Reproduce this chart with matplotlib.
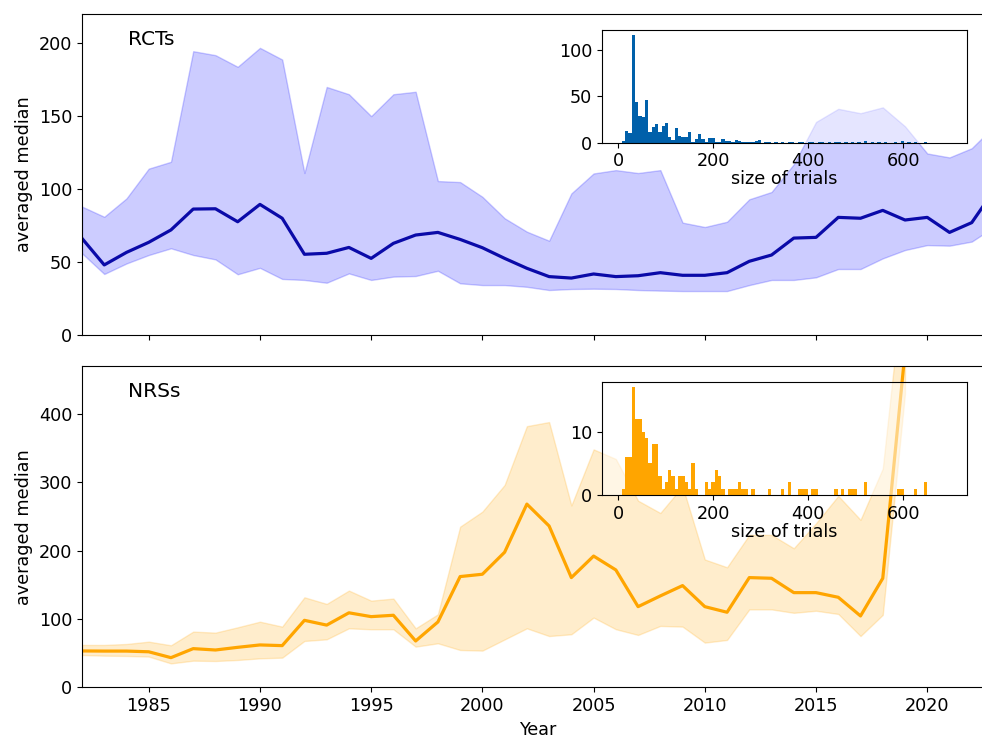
import matplotlib
matplotlib.use("Agg")
import matplotlib.pyplot as plt
import numpy as np

# yearly averaged medians with lower / upper band
rct_years = list(range(1982, 2024))
rct_median = [66.2, 48, 56.6, 63.5, 72, 86.3, 86.5, 77.6, 89.5, 80,
              55.3, 56, 60, 52.5, 62.8, 68.5, 70.3, 65.5, 59.8, 52.5,
              45.7, 40, 39, 41.8, 40, 40.6, 42.7, 40.9, 40.9, 42.7,
              50.5, 54.8, 66.4, 66.9, 80.6, 80, 85.4, 78.8, 80.6, 70.3,
              77, 99]
rct_upper = [88, 81, 93.6, 114, 118.7, 194.5, 191.8, 183.8, 196.8, 188.8,
             111, 170, 165, 150, 165, 166.7, 105.5, 104.8, 94.7, 80,
             70.8, 64.6, 97, 110.7, 113, 111, 113, 77, 74, 77.6,
             93, 98, 117, 146, 155, 152, 156, 143, 124.4, 121.7,
             128, 143]
rct_lower = [56, 41.8, 49, 54.8, 59.4, 54.8, 51.8, 41.6, 46, 38.4,
             37.7, 35.8, 42.2, 37.7, 40, 40.4, 44, 35.4, 34.2, 34.2,
             33, 30.8, 31.5, 31.7, 31.5, 30.8, 30.4, 30.1, 30.1, 30.1,
             34.2, 37.7, 37.7, 39.5, 45.2, 45.2, 52.5, 58.2, 61.6, 61.2,
             64, 74]

nrs_years = list(range(1982, 2020))
nrs_median = [53.2, 53, 53, 52, 43.4, 56.6, 54.6, 58.5, 62, 61,
              98, 91, 109, 103.4, 105.4, 67.8, 95.6, 162, 165.4, 197.6,
              268, 236, 160.5, 192, 171.7, 118, 133.7, 148.8, 118, 109.8,
              160.5, 159.5, 138.5, 138.5, 131.7, 104.4, 159.5, 490]
nrs_upper = [62, 62, 63.4, 66.8, 61.5, 81.5, 80, 87.8, 96, 88.8,
             131.7, 122, 141.5, 126.8, 129.8, 86.3, 106.8, 235, 257, 296,
             382, 388, 266, 348, 334, 273, 255, 294, 187, 175.6,
             223, 223, 203.4, 240, 280, 245, 320, 620]
nrs_lower = [47.3, 46.3, 45.9, 45, 35, 39, 38.5, 40, 42.4, 43.4,
             67.8, 70.2, 86.3, 84.9, 84.9, 59.5, 64.4, 54.6, 53.7, 70,
             86.3, 75, 77.6, 102, 85, 76.6, 89.8, 88.8, 65.4, 69.3,
             114, 114, 109, 112, 107.3, 75, 106, 430]

# histogram of trial sizes: 100 bins of width 7 from 0 to 700
bin_width = 7
rct_counts = [0, 2, 13, 11, 116, 44, 29, 28, 46, 12,
              17, 20, 12, 18, 21, 6, 3, 16, 7, 6,
              6, 12, 1, 4, 9, 4, 1, 5, 5, 1,
              1, 4, 2, 2, 1, 3, 2, 1, 1, 1,
              1, 2, 3, 0, 1, 1, 0, 1, 0, 1,
              0, 1, 1, 0, 1, 1, 0, 1, 1, 0,
              1, 1, 0, 1, 0, 1, 1, 0, 1, 0,
              1, 0, 1, 0, 2, 0, 1, 0, 1, 0,
              1, 0, 0, 1, 0, 2, 0, 1, 0, 1,
              0, 0, 1, 0, 0, 0, 0, 0, 0, 0]
nrs_counts = [0, 1, 6, 6, 17, 12, 12, 10, 9, 5,
              8, 8, 3, 1, 2, 4, 3, 1, 3, 3,
              2, 1, 5, 1, 0, 0, 2, 1, 2, 4,
              3, 1, 0, 1, 1, 1, 2, 1, 1, 0,
              1, 0, 0, 0, 0, 1, 0, 0, 0, 1,
              0, 2, 0, 0, 1, 1, 1, 0, 1, 1,
              0, 0, 0, 0, 0, 1, 0, 1, 0, 1,
              1, 1, 0, 0, 2, 0, 0, 0, 0, 0,
              0, 0, 0, 0, 1, 1, 0, 0, 0, 1,
              0, 0, 2, 0, 0, 0, 0, 0, 0, 0]

plt.rcParams['font.size'] = 12.7

fig = plt.figure(figsize=(9.82, 7.37), dpi=100)
ax1 = fig.add_axes([0.0835, 0.5455, 0.9287, 0.4355])
ax2 = fig.add_axes([0.0835, 0.0674, 0.9287, 0.436])

panels = [
    (ax1, rct_years, rct_median, rct_lower, rct_upper, '#0a0aa8', 'blue', 'RCTs', 220),
    (ax2, nrs_years, nrs_median, nrs_lower, nrs_upper, 'orange', 'orange', 'NRSs', 470),
]
for ax, yrs, med, lo, hi, lc, fc, name, ytop in panels:
    ax.fill_between(yrs, lo, hi, color=fc, alpha=0.2)
    ax.plot(yrs, med, color=lc, lw=2.3)
    ax.set_xlim(1982, 2023)
    ax.set_ylim(0, ytop)
    ax.set_ylabel('averaged median')
    ax.text(0.05, 0.92, name, transform=ax.transAxes, va='center', fontsize=14.5)
    ax.set_xticks([1985, 1990, 1995, 2000, 2005, 2010, 2015, 2020])

ax1.set_yticks([0, 50, 100, 150, 200])
ax1.set_xticklabels([])
ax2.set_yticks([0, 100, 200, 300, 400])
ax2.set_xlabel('Year')

edges = np.arange(len(rct_counts)) * bin_width
insets = [(ax1, rct_counts, '#0060aa', [0, 50, 100]),
          (ax2, nrs_counts, 'orange', [0, 10])]
for ax, counts, col, yt in insets:
    ins = ax.inset_axes([0.5699, 0.599, 0.4006, 0.351])
    ins.set_facecolor((1, 1, 1, 0.5))
    ins.bar(edges, counts, width=bin_width, align='edge', color=col)
    ins.set_xlim(-35, 735)
    ins.set_ylim(0, max(counts) * 1.05)
    ins.set_xticks([0, 200, 400, 600])
    ins.set_yticks(yt)
    ins.set_xlabel('size of trials', labelpad=0)

fig.savefig('out.png', dpi=100)
